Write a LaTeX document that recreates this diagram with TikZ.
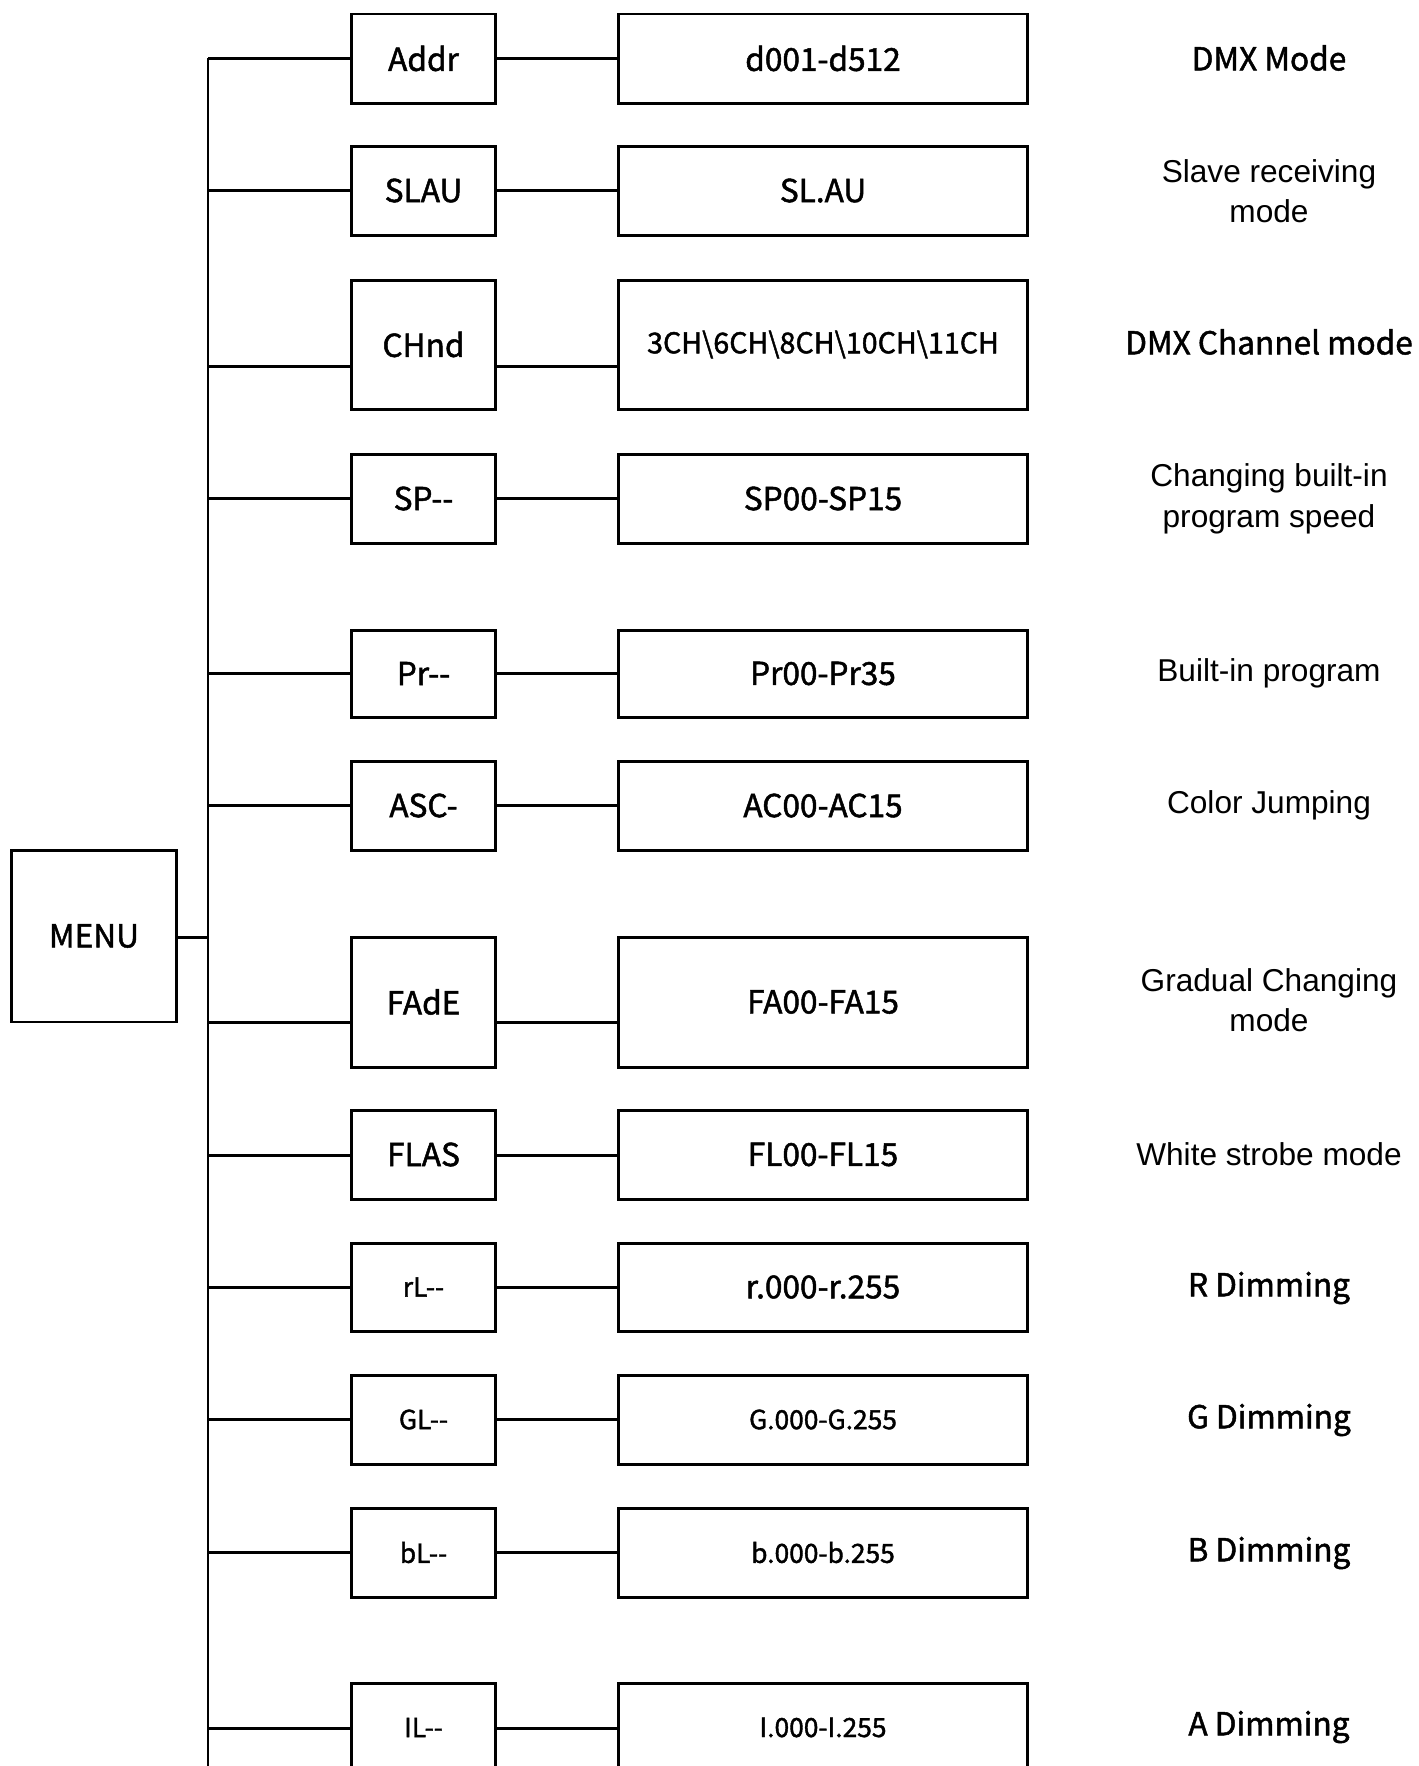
\documentclass[tikz,border=0pt]{standalone}
\usepackage{fontspec}
\newfontfamily\boxfont[FakeBold=1.5]{Noto Sans CJK SC}
\newfontfamily\notefont{Liberation Sans}
\usetikzlibrary{positioning,calc}

\tikzset{
  menubox/.style={draw, rectangle, line width=1.7pt, inner sep=0pt, align=center},
  link/.style={line width=1.7pt},
}

\begin{document}
\begin{tikzpicture}[x=0.02cm, y=-0.02cm]
\path[use as bounding box, clip] (0,0) rectangle (1418,1766);

% menu box and trunk
\node[menubox, minimum width=3.32cm, minimum height=3.44cm,
  font=\boxfont\fontsize{18}{18}\selectfont] (menu) at (94,936) {MENU};
\coordinate (jm) at (208,937);
\coordinate (trunkend) at (208,1780);
\draw[link] (menu.east |- jm) -- (jm);

\foreach \lab/\val/\ya/\yb/\ly/\lf/\rf [count=\i] in {
  Addr/d001-d512/14/103/58/18/18,
  SLAU/SL.AU/146/235/190/18/18,
  CHnd/3CH\textbackslash 6CH\textbackslash 8CH\textbackslash 10CH\textbackslash 11CH/280/409/366/18/16.3,
  SP-{}-/SP00-SP15/454/543/498/18/18,
  Pr-{}-/Pr00-Pr35/630/717/673/18/18,
  ASC-/AC00-AC15/761/850/805/18/18,
  FAdE/FA00-FA15/937/1067/1022/18/18,
  FLAS/FL00-FL15/1110/1199/1155/18/18,
  rL-{}-/r.000-r.255/1243/1331/1287/15/18,
  GL-{}-/G.000-G.255/1375/1464/1419/15/15,
  bL-{}-/b.000-b.255/1508/1597/1552/15/15,
  IL-{}-/I.000-I.255/1683/1772/1728/15/15} {

  % box centre and height for this row
  \pgfmathsetmacro\cy{(\ya+\yb)/2}
  \pgfmathsetmacro\hh{(\yb-\ya)*0.02}

  \node[menubox, minimum width=2.9cm, minimum height=\hh cm,
    font=\boxfont\fontsize{\lf}{\lf}\selectfont] (l\i) at (423.5,\cy) {\lab};
  \node[menubox, minimum width=8.2cm, minimum height=\hh cm,
    font=\boxfont\fontsize{\rf}{\rf}\selectfont] (r\i) at (823,\cy) {\val};

  \coordinate (j\i) at (208,\ly);
  \draw[link] (j\i) -- (l\i.west |- j\i);
  \draw[link] (l\i.east |- j\i) -- (r\i.west |- j\i);
}

\draw[link] (j1) -- (trunkend);

% descriptions on the right
\foreach \txt/\ty/\ff [count=\i] in {
  DMX Mode/58/\boxfont,
  {Slave receiving\\mode}/191/\notefont,
  DMX Channel mode/342/\boxfont,
  {Changing built-in\\program speed}/499/\notefont,
  Built-in program/673/\notefont,
  Color Jumping/805/\notefont,
  {Gradual Changing\\mode}/1000/\notefont,
  White strobe mode/1154/\notefont,
  R Dimming/1288/\boxfont,
  G Dimming/1420/\boxfont,
  B Dimming/1553/\boxfont,
  A Dimming/1727/\boxfont} {
  \node[align=center, font=\ff\fontsize{18}{23}\selectfont] (d\i) at (1269,\ty) {\txt};
}
\end{tikzpicture}
\end{document}
